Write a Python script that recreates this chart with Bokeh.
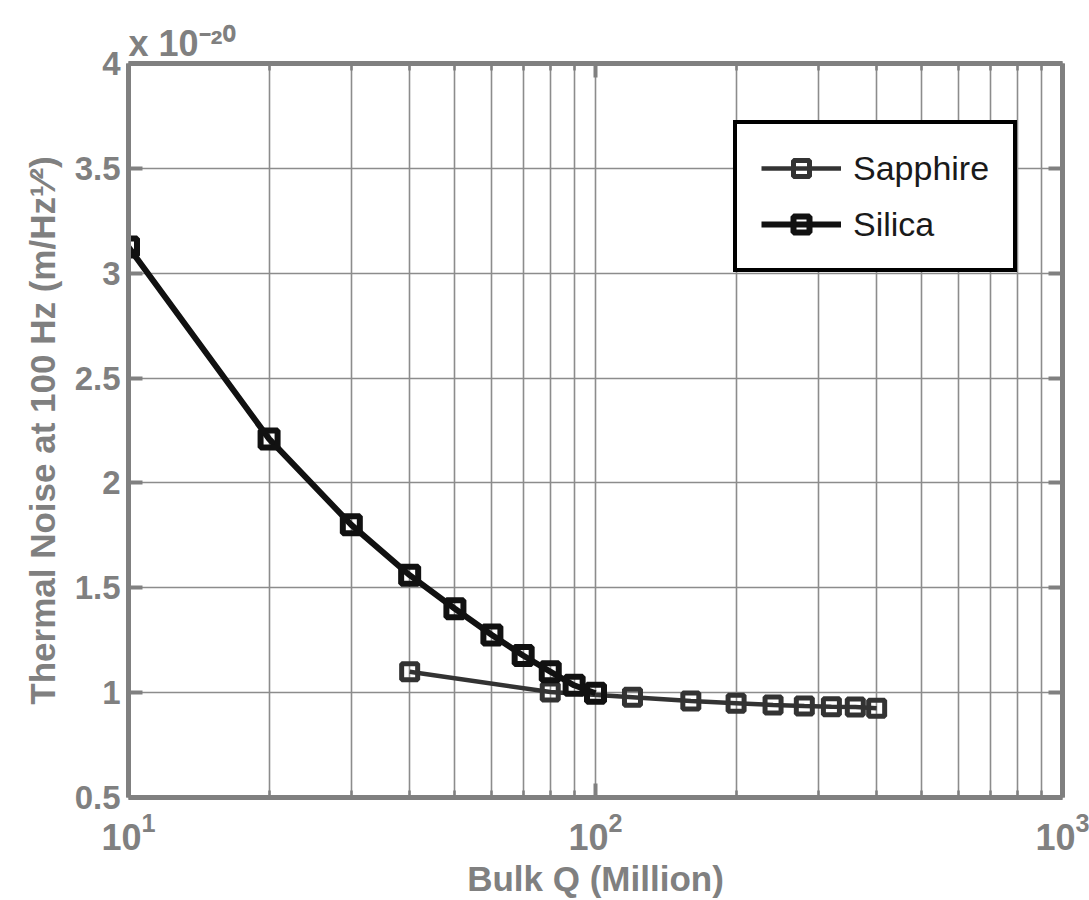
import numpy as np
from bokeh.plotting import figure
from bokeh.models import (FixedTicker, LogAxis, LinearAxis, Legend,
                          LegendItem, Range1d)
from bokeh.embed import file_html
from bokeh.resources import INLINE

# ---------------- data ----------------
silica_q = [10, 20, 30, 40, 50, 60, 70, 80, 90, 100]
silica_noise = [3.125, 2.21, 1.80, 1.56, 1.40, 1.275, 1.177, 1.10, 1.035, 0.997]
sapphire_q = [40, 80, 120, 160, 200, 240, 280, 320, 360, 400]
sapphire_noise = [1.10, 1.003, 0.978, 0.960, 0.950, 0.941, 0.936, 0.933, 0.931, 0.926]

x_major = [10, 100, 1000]
x_minor = [20, 30, 40, 50, 60, 70, 80, 90, 200, 300, 400, 500, 600, 700, 800, 900]
y_ticks = [0.5, 1, 1.5, 2, 2.5, 3, 3.5, 4]
y_tick_labels = ["0.5", "1", "1.5", "2", "2.5", "3", "3.5", "4"]
series_names = ["Sapphire", "Silica"]
x_title = "Bulk Q (Million)"
y_title = "Thermal Noise at 100 Hz (m/Hz\u00b9\u2044\u00b2)"
multiplier = "x 10\u207b\u00b2\u2070"

# ---------------- layout ----------------
W, H = 1089, 900
L, R, T, B = 128, 1062, 63, 797
GRAY = "#808080"
FONT = "Liberation Sans"

p = figure(width=W, height=H, x_axis_type="log",
           x_range=Range1d(x_major[0], x_major[-1]),
           y_range=Range1d(y_ticks[0], y_ticks[-1]),
           output_backend="svg", toolbar_location=None,
           min_border_left=L, min_border_right=W - R,
           min_border_top=T, min_border_bottom=H - B,
           background_fill_color="white", border_fill_color="white",
           outline_line_color=None)

xticker = FixedTicker(ticks=x_major, minor_ticks=x_minor)
yticker = FixedTicker(ticks=y_ticks)

# grid
p.xgrid.ticker = xticker
p.ygrid.ticker = yticker
for g in (p.xgrid, p.ygrid):
    g.grid_line_color = "#8c8c8c"
    g.grid_line_width = 1.6
p.xgrid.minor_grid_line_color = "#8c8c8c"
p.xgrid.minor_grid_line_width = 1.6


def style_axis(ax, show_labels=True):
    ax.axis_line_color = GRAY
    ax.axis_line_width = 5
    ax.major_tick_line_color = GRAY
    ax.major_tick_line_width = 4
    ax.major_tick_in = 14
    ax.major_tick_out = 0
    ax.minor_tick_line_color = GRAY
    ax.minor_tick_line_width = 2.5
    ax.minor_tick_in = 7
    ax.minor_tick_out = 0
    ax.major_label_text_font = FONT
    ax.major_label_text_font_style = "bold"
    ax.major_label_text_color = GRAY
    ax.axis_label_text_font = FONT
    ax.axis_label_text_font_style = "bold"
    ax.axis_label_text_color = GRAY
    if not show_labels:
        ax.major_label_text_font_size = "1px"
        ax.major_label_text_color = None
        ax.major_label_standoff = 0


xa = p.xaxis[0]
xa.ticker = xticker
style_axis(xa)
xa.major_label_text_font_size = "36px"
xa.major_label_standoff = 14
xa.axis_label = x_title
xa.axis_label_text_font_size = "35px"
xa.axis_label_standoff = 6

ya = p.yaxis[0]
ya.ticker = yticker
style_axis(ya)
ya.minor_tick_line_color = None
ya.major_label_overrides = {v: s for v, s in zip(y_ticks, y_tick_labels)}
ya.major_label_text_font_size = "33px"
ya.major_label_standoff = 8
ya.axis_label = y_title
ya.axis_label_text_font_size = "35px"
ya.axis_label_standoff = 10

top_ax = LogAxis(ticker=xticker)
style_axis(top_ax, show_labels=False)
p.add_layout(top_ax, "above")
right_ax = LinearAxis(ticker=yticker)
style_axis(right_ax, show_labels=False)
right_ax.minor_tick_line_color = None
p.add_layout(right_ax, "right")

# multiplier as title
p.title.text = multiplier
p.title.align = "left"
p.title.text_font = FONT
p.title.text_font_style = "bold"
p.title.text_font_size = "36px"
p.title.text_color = GRAY
p.title.standoff = 0
p.title.offset = 0

# series
sap_color = "#333333"
sil_color = "#111111"
r_sap_line = p.line(sapphire_q, sapphire_noise, line_color=sap_color, line_width=4.5)
r_sap_mk = p.scatter(sapphire_q, sapphire_noise, marker="square", size=16,
                     line_color=sap_color, line_width=5, fill_color=None)
r_sil_line = p.line(silica_q, silica_noise, line_color=sil_color, line_width=6)
r_sil_mk = p.scatter(silica_q, silica_noise, marker="square", size=17,
                     line_color=sil_color, line_width=6, fill_color=None)

legend = Legend(items=[
    LegendItem(label=series_names[0], renderers=[r_sap_line, r_sap_mk]),
    LegendItem(label=series_names[1], renderers=[r_sil_line, r_sil_mk]),
], location=(605, 525))
legend.border_line_color = "black"
legend.border_line_alpha = 1
legend.border_line_width = 4
legend.background_fill_color = "white"
legend.background_fill_alpha = 1
legend.label_text_font = FONT
legend.label_text_font_size = "34px"
legend.label_text_color = "#1a1a1a"
legend.glyph_width = 80
legend.glyph_height = 40
legend.label_height = 40
legend.label_standoff = 12
legend.spacing = 16
legend.padding = 24
legend.margin = 0
p.add_layout(legend)

open("out.html", "w").write(file_html(p, INLINE))
